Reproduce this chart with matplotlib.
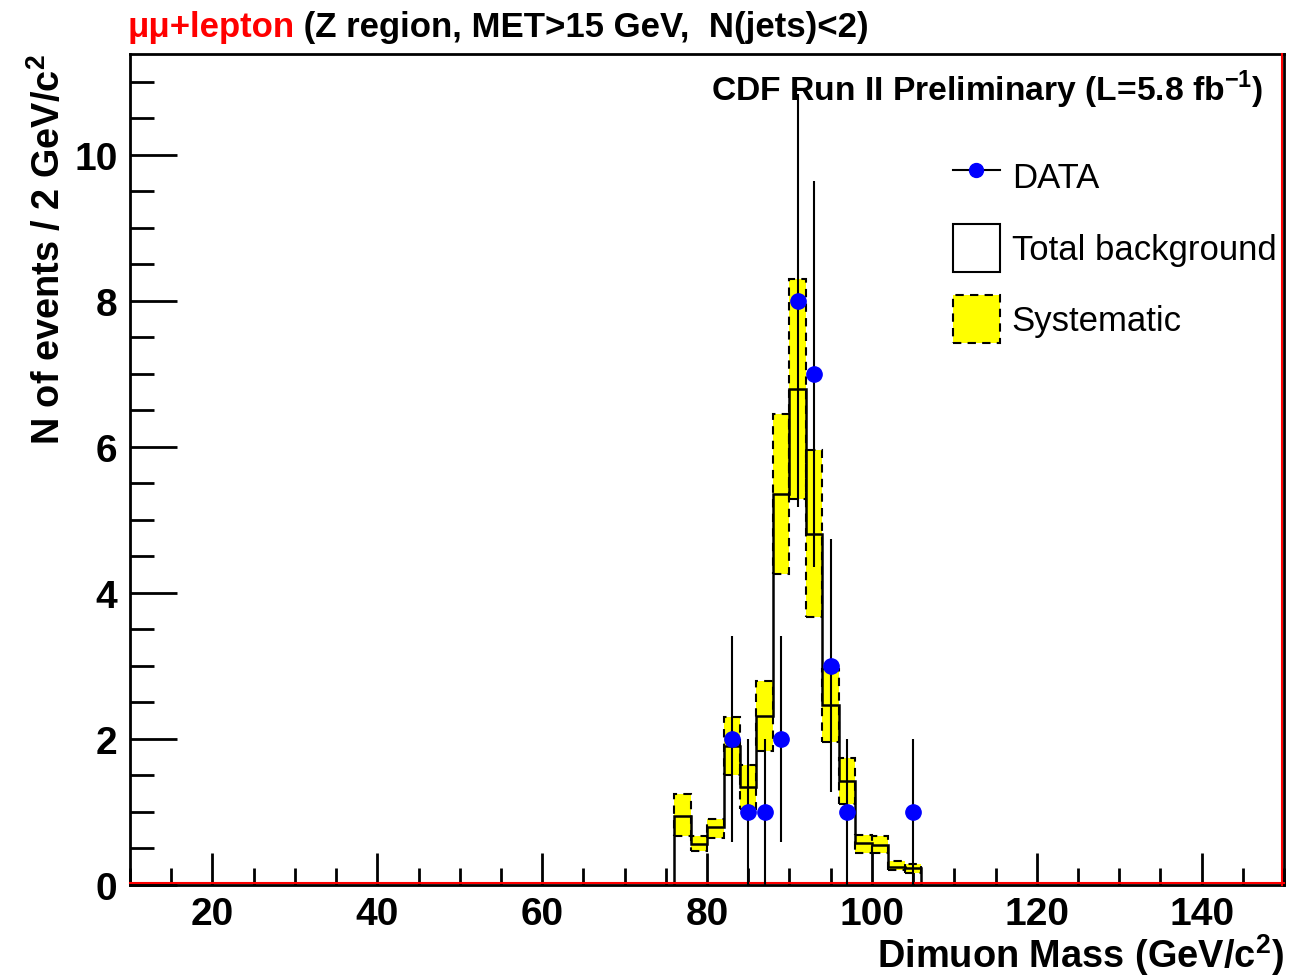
import matplotlib
matplotlib.use("Agg")
import matplotlib.pyplot as plt
import matplotlib.transforms as mtransforms
from matplotlib.lines import Line2D
from matplotlib.patches import Patch
from matplotlib.ticker import MultipleLocator
import numpy as np

plt.rcParams['font.family'] = ['Liberation Sans', 'DejaVu Sans']
plt.rcParams['mathtext.fontset'] = 'custom'
plt.rcParams['mathtext.rm'] = 'Liberation Sans'
plt.rcParams['mathtext.bf'] = 'Liberation Sans:bold'

# 2 GeV bins from 76 to 106
edges = np.arange(76, 108, 2)
bkg = [0.95, 0.56, 0.79, 1.90, 1.34, 2.32, 5.36, 6.79, 4.81, 2.47, 1.43, 0.57, 0.55, 0.24, 0.23]
sys_hi = [1.25, 0.67, 0.91, 2.30, 1.64, 2.80, 6.45, 8.30, 5.95, 2.96, 1.74, 0.69, 0.67, 0.33, 0.29]
sys_lo = [0.67, 0.46, 0.65, 1.50, 1.04, 1.84, 4.26, 5.29, 3.67, 1.96, 1.11, 0.44, 0.44, 0.20, 0.17]

data_x = [83, 85, 87, 89, 91, 93, 95, 97, 105]
data_n = [2, 1, 1, 2, 8, 7, 3, 1, 1]

fig = plt.figure(figsize=(13.12, 9.78), dpi=100)
ax = fig.add_axes([0.0991, 0.0941, 0.8796, 0.8497])
ax.set_xlim(10, 150)
ax.set_ylim(0, 11.38)

# systematic band, one dashed box per bin
lo = np.array(sys_lo)
hi = np.array(sys_hi)
ax.bar(edges[:-1], hi - lo, bottom=lo, width=2, align='edge',
       color='yellow', edgecolor='none', zorder=2)
ax.bar(edges[:-1], hi - lo, bottom=lo, width=2, align='edge',
       facecolor='none', edgecolor='black', linestyle=(0, (4, 3)), linewidth=1.5, zorder=3)

# total background
ax.stairs(bkg, edges, color='black', linewidth=1.8, zorder=4)

# red zero line along the bottom and right frame
up = mtransforms.offset_copy(ax.transData, fig=fig, x=0, y=2, units='dots')
ax.plot([10, 150], [0, 0], color='red', linewidth=1.5, transform=up, zorder=5, clip_on=False)
right = mtransforms.offset_copy(ax.transAxes, fig=fig, x=-2, y=0, units='dots')
ax.plot([1, 1], [0, 1], color='red', linewidth=1.5, transform=right, zorder=5, clip_on=False)

# data with sqrt(N) errors
n = np.array(data_n, dtype=float)
ax.errorbar(data_x, n, yerr=np.sqrt(n), fmt='o', color='blue', ecolor='black',
            elinewidth=1.5, markersize=11, capsize=0, zorder=6)

# axes style
for s in ax.spines.values():
    s.set_linewidth(2)
ax.xaxis.set_major_locator(MultipleLocator(20))
ax.xaxis.set_minor_locator(MultipleLocator(5))
ax.yaxis.set_major_locator(MultipleLocator(2))
ax.yaxis.set_minor_locator(MultipleLocator(0.5))
ax.tick_params(which='both', direction='in', top=False, right=False, width=2)
ax.tick_params(axis='x', which='major', length=23, pad=8, labelsize=28)
ax.tick_params(axis='x', which='minor', length=12)
ax.tick_params(axis='y', which='major', length=34, pad=9, labelsize=28)
ax.tick_params(axis='y', which='minor', length=17)
for lab in ax.get_xticklabels() + ax.get_yticklabels():
    lab.set_fontweight('bold')

ax.text(0.982, 0.983, r'CDF Run II Preliminary (L=5.8 fb$^{\mathbf{-1}}$)', transform=ax.transAxes,
        ha='right', va='top', fontsize=24.2, fontweight='bold', zorder=1)

fig.text(0.9787, 0.0102, r'Dimuon Mass (GeV/c$^{\mathbf{2}}$)', ha='right', va='baseline',
         fontsize=27.4, fontweight='bold')
fig.text(0.022, 0.944, r'N of events / 2 GeV/c$^{\mathbf{2}}$', ha='left', va='top',
         rotation=90, fontsize=27.3, fontweight='bold')

t1 = fig.text(0.097, 0.962, 'μμ+lepton', color='red', fontsize=25, fontweight='bold',
              ha='left', va='baseline')
fig.canvas.draw()
ax.annotate(' (Z region, MET>15 GeV,  N(jets)<2)', xy=(1, 0), xycoords=t1,
            ha='left', va='bottom', fontsize=25, fontweight='bold', color='black',
            annotation_clip=False)

handles = [
    Line2D([], [], color='black', marker='o', markerfacecolor='blue',
           markeredgecolor='blue', markersize=10, linewidth=1.5),
    Patch(facecolor='white', edgecolor='black', linewidth=1.5),
    Patch(facecolor='yellow', edgecolor='black', linestyle=(0, (4, 3)), linewidth=1.5),
]
ax.legend(handles, ['DATA', 'Total background', 'Systematic'],
          loc='upper left', bbox_to_anchor=(0.713, 0.882), frameon=False,
          fontsize=25, handlelength=1.35, handleheight=1.75, handletextpad=0.35,
          labelspacing=0.68, borderaxespad=0, borderpad=0)

fig.savefig('out.png', dpi=100)
